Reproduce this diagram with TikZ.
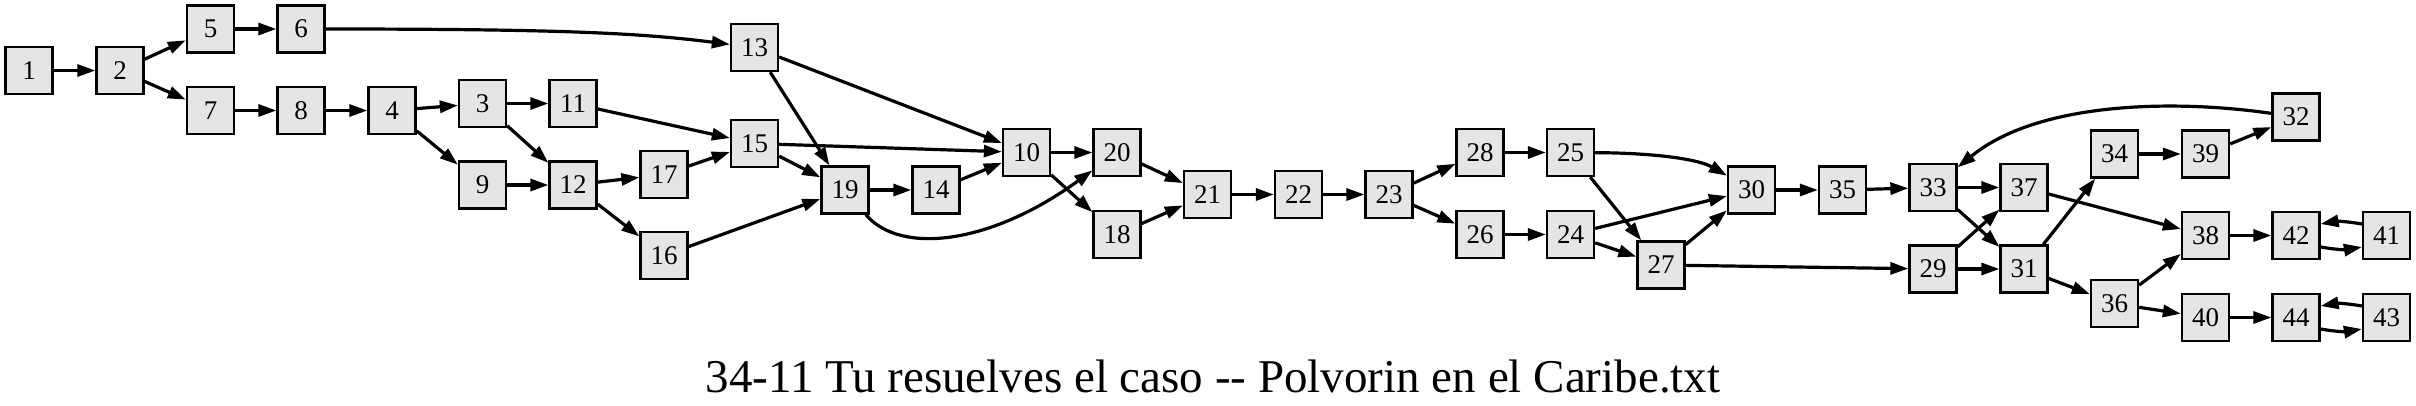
\documentclass[tikz,border=0pt]{standalone}
\usepackage{fontspec}
\setmainfont{Liberation Serif}
\usepackage{tikz}
\usetikzlibrary{arrows.meta, positioning}

\begin{document}
\begin{tikzpicture}[
    x=1pt, y=-1pt,
    every node/.style={font=\fontsize{27}{30}\selectfont},
    passage/.style={rectangle, draw, line width=2.3pt, fill=black!10, minimum size=47pt, inner sep=0pt},
    arrow/.style={-{Triangle[length=18pt, width=12pt]}, line width=3.2pt},
    caption/.style={font=\fontsize{47}{52}\selectfont, anchor=base}
]
\useasboundingbox (0,0) rectangle (2416,405);

\node[passage] (p1) at (29,70.5) {1};
\node[passage] (p2) at (120,70.5) {2};
\node[passage] (p5) at (210.5,29) {5};
\node[passage] (p6) at (301,29) {6};
\node[passage] (p7) at (210.5,110.5) {7};
\node[passage] (p8) at (301,110.5) {8};
\node[passage] (p4) at (392,110.5) {4};
\node[passage] (p3) at (482.5,103.5) {3};
\node[passage] (p9) at (482.5,185) {9};
\node[passage] (p11) at (573,103.5) {11};
\node[passage] (p12) at (573,185) {12};
\node[passage] (p13) at (754.5,47.5) {13};
\node[passage] (p15) at (754.5,143.5) {15};
\node[passage] (p17) at (664,174.5) {17};
\node[passage] (p16) at (664,255.5) {16};
\node[passage] (p19) at (845,190) {19};
\node[passage] (p14) at (936,190) {14};
\node[passage] (p10) at (1026.5,152.5) {10};
\node[passage] (p20) at (1117,152.5) {20};
\node[passage] (p18) at (1117,234.5) {18};
\node[passage] (p21) at (1207.5,194.5) {21};
\node[passage] (p22) at (1298.5,194.5) {22};
\node[passage] (p23) at (1389,194.5) {23};
\node[passage] (p28) at (1480,152.5) {28};
\node[passage] (p26) at (1480,234.5) {26};
\node[passage] (p25) at (1570.5,152.5) {25};
\node[passage] (p24) at (1570.5,234.5) {24};
\node[passage] (p27) at (1661,265) {27};
\node[passage] (p30) at (1751.5,190) {30};
\node[passage] (p35) at (1842.5,190) {35};
\node[passage] (p33) at (1933,187.5) {33};
\node[passage] (p29) at (1933,269) {29};
\node[passage] (p37) at (2024,187.5) {37};
\node[passage] (p31) at (2024,269) {31};
\node[passage] (p34) at (2114.5,154) {34};
\node[passage] (p36) at (2114.5,303.5) {36};
\node[passage] (p39) at (2205.5,154) {39};
\node[passage] (p38) at (2205.5,235.5) {38};
\node[passage] (p40) at (2205.5,317.5) {40};
\node[passage] (p32) at (2296,117) {32};
\node[passage] (p42) at (2296,235.5) {42};
\node[passage] (p44) at (2296,317.5) {44};
\node[passage] (p41) at (2386.5,235.5) {41};
\node[passage] (p43) at (2386.5,317.5) {43};

\node[caption] (title) at (1213,392) {34-11 Tu resuelves el caso -{}- Polvorin en el Caribe.txt};

\draw[arrow] (p1) -- (p2);
\draw[arrow] (p2) -- (p5);
\draw[arrow] (p2) -- (p7);
\draw[arrow] (p5) -- (p6);
\draw[arrow] (p6) .. controls (560,29) and (640,33) .. (p13);
\draw[arrow] (p7) -- (p8);
\draw[arrow] (p8) -- (p4);
\draw[arrow] (p4) -- (p3);
\draw[arrow] (p4) -- (p9);
\draw[arrow] (p3) -- (p11);
\draw[arrow] (p3) -- (p12);
\draw[arrow] (p9) -- (p12);
\draw[arrow] (p11) -- (p15);
\draw[arrow] (p12) -- (p17);
\draw[arrow] (p12) -- (p16);
\draw[arrow] (p17) -- (p15);
\draw[arrow] (p15) -- (p10);
\draw[arrow] (p15) -- (p19);
\draw[arrow] (p13) -- (p10);
\draw[arrow] (p13) -- (p19);
\draw[arrow] (p16) -- (p19);
\draw[arrow] (p19) -- (p14);
\draw[arrow] (p19) .. controls (900,255) and (990,245) .. (p20);
\draw[arrow] (p14) -- (p10);
\draw[arrow] (p10) -- (p20);
\draw[arrow] (p10) -- (p18);
\draw[arrow] (p20) -- (p21);
\draw[arrow] (p18) -- (p21);
\draw[arrow] (p21) -- (p22);
\draw[arrow] (p22) -- (p23);
\draw[arrow] (p23) -- (p28);
\draw[arrow] (p23) -- (p26);
\draw[arrow] (p28) -- (p25);
\draw[arrow] (p26) -- (p24);
\draw[arrow] (p25) .. controls (1660,153) and (1700,160) .. (p30);
\draw[arrow] (p25) -- (p27);
\draw[arrow] (p24) -- (p30);
\draw[arrow] (p24) -- (p27);
\draw[arrow] (p27) -- (p30);
\draw[arrow] (p27) -- (p29);
\draw[arrow] (p30) -- (p35);
\draw[arrow] (p35) -- (p33);
\draw[arrow] (p33) -- (p37);
\draw[arrow] (p33) -- (p31);
\draw[arrow] (p29) -- (p37);
\draw[arrow] (p29) -- (p31);
\draw[arrow] (p31) -- (p34);
\draw[arrow] (p31) -- (p36);
\draw[arrow] (p37) -- (p38);
\draw[arrow] (p34) -- (p39);
\draw[arrow] (p39) -- (p32);
\draw[arrow] (p32) .. controls (2180,100) and (2040,100) .. (p33);
\draw[arrow] (p36) -- (p38);
\draw[arrow] (p36) -- (p40);
\draw[arrow] (p38) -- (p42);
\draw[arrow] (p41.155) to[bend right=10] (p42.25);
\draw[arrow] (p42.-25) to[bend right=10] (p41.-155);
\draw[arrow] (p40) -- (p44);
\draw[arrow] (p43.155) to[bend right=10] (p44.25);
\draw[arrow] (p44.-25) to[bend right=10] (p43.-155);

\end{tikzpicture}
\end{document}
